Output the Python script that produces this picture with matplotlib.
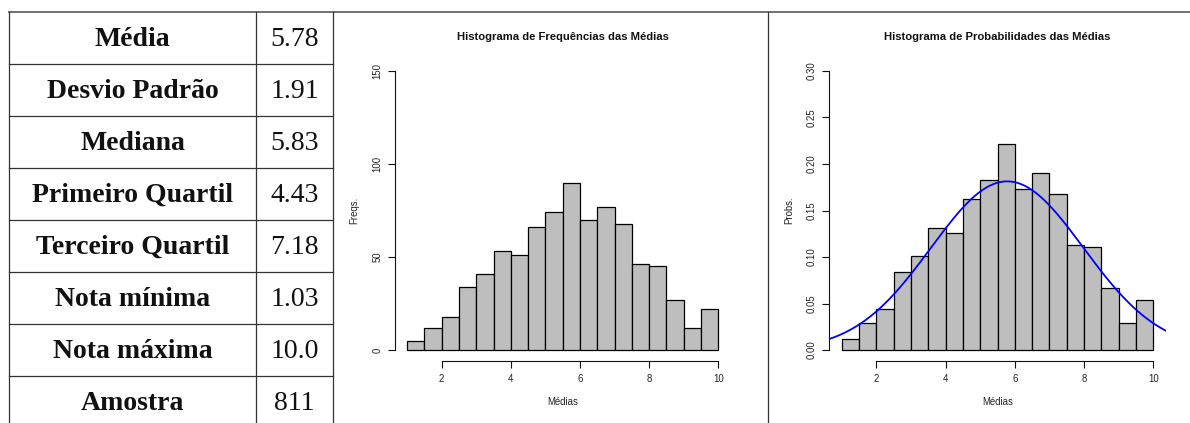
import numpy as np
import matplotlib
matplotlib.use("Agg")
import matplotlib.pyplot as plt

# summary table
stat_names = ["Média", "Desvio Padrão", "Mediana", "Primeiro Quartil",
              "Terceiro Quartil", "Nota mínima", "Nota máxima", "Amostra"]
stat_values = ["5.78", "1.91", "5.83", "4.43", "7.18", "1.03", "10.0", "811"]

# histogram of the means (bins of width 0.5 from 1 to 10)
bin_edges = [1.0, 1.5, 2.0, 2.5, 3.0, 3.5, 4.0, 4.5, 5.0, 5.5,
             6.0, 6.5, 7.0, 7.5, 8.0, 8.5, 9.0, 9.5, 10.0]
freqs = [5, 12, 18, 34, 41, 53, 51, 66, 74, 90, 70, 77, 68, 46, 45, 27, 12, 22]

# normal curve drawn over the probability histogram
curve_mean = 5.78
curve_sd = 2.2

x_ticks = [2, 4, 6, 8, 10]
freq_ticks = [0, 50, 100, 150]
prob_ticks = [0.0, 0.05, 0.10, 0.15, 0.20, 0.25, 0.30]
prob_labels = ["0.00", "0.05", "0.10", "0.15", "0.20", "0.25", "0.30"]

W, H = 1190, 423
fig = plt.figure(figsize=(W / 100, H / 100), dpi=100)

# ---- table frame and text (pixel coordinates) ----
bg = fig.add_axes([0, 0, 1, 1])
bg.set_xlim(0, W)
bg.set_ylim(H, 0)
bg.axis("off")

line_kw = dict(color="#333333", lw=0.9)
bg.plot([9, W], [12, 12], color="#666666", lw=1.3)
for xv in [9, 256, 333, 768]:
    bg.plot([xv, xv], [12, H], **line_kw)
row_h = 52
for i in range(1, len(stat_names)):
    yv = 12 + i * row_h
    bg.plot([9, 333], [yv, yv], **line_kw)

for i, (name, val) in enumerate(zip(stat_names, stat_values)):
    yc = 12 + (i + 0.5) * row_h + 1
    bg.text(132.5, yc, name, family="Liberation Serif", weight="bold",
            fontsize=20, ha="center", va="center", color="#111111")
    bg.text(294.5, yc, val, family="Liberation Serif",
            fontsize=20, ha="center", va="center", color="#111111")


def r_style(ax, yticks, ylabels, title, ylabel):
    ax.set_facecolor("none")
    ax.spines["top"].set_visible(False)
    ax.spines["right"].set_visible(False)
    ax.spines["left"].set_bounds(yticks[0], yticks[-1])
    ax.spines["bottom"].set_bounds(x_ticks[0], x_ticks[-1])
    for s in ["left", "bottom"]:
        ax.spines[s].set_linewidth(0.8)
        ax.spines[s].set_color("#111111")
    ax.set_xticks(x_ticks)
    ax.set_xticklabels([str(t) for t in x_ticks])
    ax.set_yticks(yticks)
    ax.set_yticklabels(ylabels, rotation=90, va="center")
    ax.tick_params(length=5, width=0.8, labelsize=6.9, colors="#111111",
                   labelcolor="#222222", pad=4)
    ax.text(0.5, 1 + 22.8 / 301.4, title, transform=ax.transAxes,
            ha="center", va="center", family="Liberation Sans",
            weight="bold", fontsize=8.1, color="#111111")
    ax.text(0.5, -41 / 301.4, "Médias", transform=ax.transAxes,
            ha="center", va="center", family="Liberation Sans",
            fontsize=6.9, color="#222222")
    ax.text(-40 / 336.1, 0.5, ylabel, transform=ax.transAxes, rotation=90,
            ha="center", va="center", family="Liberation Sans",
            fontsize=6.9, color="#222222")
    for lab in ax.get_xticklabels() + ax.get_yticklabels():
        lab.set_family("Liberation Sans")


centers = [(a + b) / 2 for a, b in zip(bin_edges[:-1], bin_edges[1:])]
xlo = bin_edges[0] - 0.04 * (bin_edges[-1] - bin_edges[0])
xhi = bin_edges[-1] + 0.04 * (bin_edges[-1] - bin_edges[0])

ax_b = 61.8 / H
ax_h = 301.4 / H

# ---- frequency histogram ----
ax1 = fig.add_axes([394.7 / W, ax_b, 336.1 / W, ax_h])
ax1.hist(centers, bins=bin_edges, weights=freqs, color="#BEBEBE",
         edgecolor="black", linewidth=0.9)
ax1.set_xlim(xlo, xhi)
ax1.set_ylim(-0.04 * 150, 150 * 1.04)
r_style(ax1, freq_ticks, [str(t) for t in freq_ticks],
        "Histograma de Frequências das Médias", "Freqs.")

# ---- probability histogram ----
ax2 = fig.add_axes([829.2 / W, ax_b, 336.6 / W, ax_h])
ax2.hist(centers, bins=bin_edges, weights=freqs, density=True,
         color="#BEBEBE", edgecolor="black", linewidth=0.9)
xs = np.linspace(xlo, xhi, 300)
pdf = np.exp(-0.5 * ((xs - curve_mean) / curve_sd) ** 2) / (curve_sd * np.sqrt(2 * np.pi))
ax2.plot(xs, pdf, color="#0000FF", lw=1.3)
ax2.set_xlim(xlo, xhi)
ax2.set_ylim(-0.04 * 0.30, 0.30 * 1.04)
r_style(ax2, prob_ticks, prob_labels,
        "Histograma de Probabilidades das Médias", "Probs.")

fig.savefig("out.png", dpi=100)
